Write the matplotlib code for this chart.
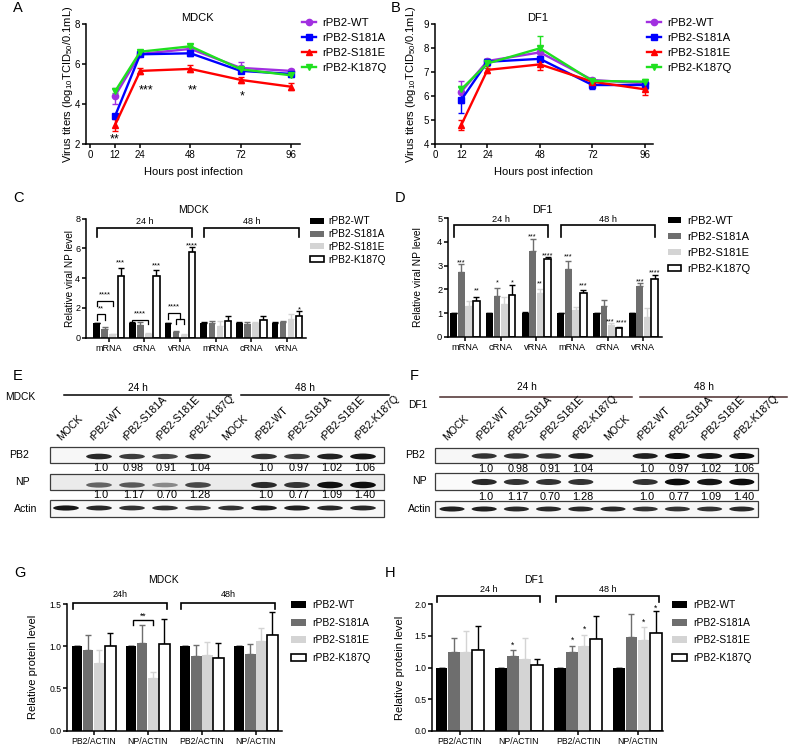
import numpy as np
import matplotlib.pyplot as plt
from matplotlib.patches import Ellipse, Rectangle, Patch
from matplotlib.lines import Line2D

plt.rcParams['font.family'] = ['Liberation Sans', 'DejaVu Sans']
plt.rcParams['mathtext.fontset'] = 'custom'
plt.rcParams['mathtext.rm'] = 'Liberation Sans'
plt.rcParams['mathtext.it'] = 'Liberation Sans:italic'
plt.rcParams['mathtext.bf'] = 'Liberation Sans:bold'
plt.rcParams['axes.linewidth'] = 1.1
plt.rcParams['xtick.major.width'] = 1.1
plt.rcParams['ytick.major.width'] = 1.1
plt.rcParams['xtick.major.size'] = 2.6
plt.rcParams['ytick.major.size'] = 2.6
plt.rcParams['xtick.major.pad'] = 1.8
plt.rcParams['ytick.major.pad'] = 1.5

W, H = 789, 747

# ---------------- data ----------------
strains = ['rPB2-WT', 'rPB2-S181A', 'rPB2-S181E', 'rPB2-K187Q']
hours = [12, 24, 48, 72, 96]

# A: MDCK virus titers
mdck_wt = [4.43, 6.52, 6.77, 5.82, 5.67]
mdck_wt_err = [0.4, 0.08, 0.12, 0.27, 0.1]
mdck_s181a = [3.42, 6.5, 6.55, 5.67, 5.52]
mdck_s181a_err = [0.1, 0.08, 0.15, 0.12, 0.12]
mdck_s181e = [2.97, 5.67, 5.77, 5.22, 4.88]
mdck_s181e_err = [0.3, 0.15, 0.17, 0.15, 0.17]
mdck_k187q = [4.65, 6.63, 6.9, 5.75, 5.45]
mdck_k187q_err = [0.1, 0.06, 0.1, 0.12, 0.1]
mdck_stars = [(12, 2.45, '**'), (27, 4.9, '***'), (49, 4.9, '**'), (72.5, 4.6, '*')]

# B: DF1 virus titers
df1_wt = [6.19, 7.47, 7.83, 6.68, 6.54]
df1_wt_err = [0.45, 0.1, 0.25, 0.08, 0.1]
df1_s181a = [5.85, 7.44, 7.56, 6.47, 6.47]
df1_s181a_err = [0.55, 0.1, 0.1, 0.15, 0.15]
df1_s181e = [4.8, 7.1, 7.33, 6.61, 6.29]
df1_s181e_err = [0.2, 0.15, 0.25, 0.1, 0.25]
df1_k187q = [6.29, 7.37, 8.0, 6.64, 6.61]
df1_k187q_err = [0.15, 0.2, 0.5, 0.08, 0.1]

# C / D: relative viral NP level
rna_groups = ['mRNA', 'cRNA', 'vRNA', 'mRNA', 'cRNA', 'vRNA']
c_wt = [1.0, 1.0, 1.0, 1.0, 1.0, 1.0]
c_wt_err = [0.0, 0.05, 0.0, 0.03, 0.03, 0.03]
c_s181a = [0.6, 0.85, 0.38, 0.95, 0.93, 1.02]
c_s181a_err = [0.08, 0.18, 0.05, 0.15, 0.1, 0.12]
c_s181e = [0.22, 0.25, 0.2, 0.8, 1.0, 1.25]
c_s181e_err = [0.03, 0.05, 0.03, 0.3, 0.07, 0.3]
c_k187q = [4.13, 4.13, 5.78, 1.12, 1.2, 1.45]
c_k187q_err = [0.52, 0.41, 0.3, 0.3, 0.25, 0.3]
c_stars = [(0, 3, '***', 5.2), (1, 3, '***', 5.0), (2, 3, '****', 6.34), (5, 3, '*', 2.03)]

d_wt = [1.0, 1.0, 1.0, 1.0, 1.0, 1.0]
d_wt_err = [0.0, 0.0, 0.05, 0.0, 0.0, 0.0]
d_s181a = [2.72, 1.7, 3.6, 2.88, 1.3, 2.14]
d_s181a_err = [0.34, 0.37, 0.52, 0.32, 0.25, 0.14]
d_s181e = [1.3, 1.38, 1.83, 1.13, 0.5, 0.82]
d_s181e_err = [0.2, 0.3, 0.2, 0.11, 0.06, 0.38]
d_k187q = [1.5, 1.78, 3.28, 1.86, 0.38, 2.45]
d_k187q_err = [0.19, 0.39, 0.07, 0.11, 0.04, 0.14]
d_stars = [(0, 1, '***', 3.24), (0, 3, '**', 2.04), (1, 1, '*', 2.37), (1, 3, '*', 2.37),
           (2, 1, '***', 4.34), (2, 2, '**', 2.35), (2, 3, '****', 3.52),
           (3, 1, '***', 3.48), (3, 3, '***', 2.28), (4, 2, '***', 0.73), (4, 3, '****', 0.7),
           (5, 1, '***', 2.44), (5, 3, '****', 2.82)]

# E / F: western blots
lane_names = ['MOCK', 'rPB2-WT', 'rPB2-S181A', 'rPB2-S181E', 'rPB2-K187Q'] * 2
ratio_lanes = [1, 2, 3, 4, 6, 7, 8, 9]
pb2_ratio = ['1.0', '0.98', '0.91', '1.04', '1.0', '0.97', '1.02', '1.06']
np_ratio = ['1.0', '1.17', '0.70', '1.28', '1.0', '0.77', '1.09', '1.40']
e_pb2_band = [0, 0.85, 0.75, 0.7, 0.8, 0, 0.8, 0.75, 0.9, 0.95]
e_np_band = [0, 0.55, 0.6, 0.35, 0.7, 0, 0.85, 0.8, 1.0, 1.0]
e_actin_band = [0.95, 0.85, 0.8, 0.8, 0.75, 0.8, 0.9, 0.9, 0.85, 0.85]
f_pb2_band = [0, 0.8, 0.8, 0.8, 0.9, 0, 0.9, 1.0, 0.95, 1.0]
f_np_band = [0, 0.85, 0.8, 0.8, 0.8, 0, 0.8, 1.0, 0.95, 1.0]
f_actin_band = [0.9, 0.9, 0.85, 0.85, 0.85, 0.85, 0.8, 0.8, 0.8, 0.85]

# G / H: relative protein level
prot_groups = ['PB2/ACTIN', 'NP/ACTIN', 'PB2/ACTIN', 'NP/ACTIN']
g_wt = [1.0, 1.0, 1.0, 1.0]
g_wt_err = [0.0, 0.0, 0.0, 0.0]
g_s181a = [0.96, 1.04, 0.88, 0.91]
g_s181a_err = [0.17, 0.21, 0.13, 0.12]
g_s181e = [0.8, 0.62, 0.9, 1.06]
g_s181e_err = [0.15, 0.08, 0.15, 0.15]
g_k187q = [1.0, 1.03, 0.86, 1.13]
g_k187q_err = [0.16, 0.29, 0.18, 0.28]

h_wt = [1.0, 1.0, 1.0, 1.0]
h_wt_err = [0.0, 0.0, 0.0, 0.0]
h_s181a = [1.25, 1.18, 1.24, 1.48]
h_s181a_err = [0.21, 0.09, 0.1, 0.37]
h_s181e = [1.24, 1.14, 1.34, 1.43]
h_s181e_err = [0.33, 0.32, 0.18, 0.21]
h_k187q = [1.27, 1.04, 1.45, 1.55]
h_k187q_err = [0.38, 0.09, 0.37, 0.35]
h_stars = [(1, 1, '*', 1.39), (2, 1, '*', 1.47), (2, 2, '*', 1.64), (3, 2, '*', 1.75), (3, 3, '*', 1.97)]

line_colors = ['#a12fe0', '#0000ff', '#ff0000', '#1fe01f']
line_markers = ['o', 's', '^', 'v']
bar_colors = ['#000000', '#6e6e6e', '#d4d4d4', '#ffffff']
err_colors = ['#000000', '#6e6e6e', '#d4d4d4', '#000000']

fig = plt.figure(figsize=(W / 100, H / 100), dpi=100)


def add_ax(left, top, right, bottom):
    return fig.add_axes([left / W, 1 - bottom / H, (right - left) / W, (bottom - top) / H])


def ftext(x, y, s, **kw):
    fig.text(x / W, 1 - y / H, s, **kw)


def px_labels(ax, xlabel=None, xlab_y=None, ylabel=None, ylab_x=None, fs=8):
    bb = ax.get_position()
    left, right = bb.x0 * W, bb.x1 * W
    top, bottom = (1 - bb.y1) * H, (1 - bb.y0) * H
    if ylabel:
        ax.set_ylabel(ylabel, fontsize=fs, va='center')
        ax.yaxis.set_label_coords((ylab_x - left) / (right - left), 0.5)
    if xlabel:
        ax.set_xlabel(xlabel, fontsize=fs, va='center')
        ax.xaxis.set_label_coords(0.5, -(xlab_y - bottom) / (bottom - top))


def px_legend(ax, handles, x, y, fs, spacing, hl, hh, pad):
    ax.legend(handles, strains, loc='upper left', bbox_to_anchor=(x / W, 1 - y / H),
              bbox_transform=fig.transFigure, frameon=False, fontsize=fs, borderpad=0,
              borderaxespad=0, labelspacing=spacing, handlelength=hl, handleheight=hh,
              handletextpad=pad)


def style(ax):
    for s in ['top', 'right']:
        ax.spines[s].set_visible(False)


def titer_panel(ax, series, errs, ylim, xlim):
    style(ax)
    for vals, err, c, m in zip(series, errs, line_colors, line_markers):
        ax.errorbar(hours, vals, yerr=err, color=c, marker=m, ms=4.5, lw=1.7,
                    elinewidth=1, capsize=2.5, capthick=1, clip_on=False)
    ax.set_xlim(*xlim)
    ax.set_ylim(*ylim)
    ax.set_xticks([0, 12, 24, 48, 72, 96])
    ax.tick_params(labelsize=7)
    handles = [Line2D([], [], color=c, marker=m, ms=4.5, lw=1.7)
               for c, m in zip(line_colors, line_markers)]
    return handles


def bar_panel(ax, means, errs, groups, width, step, fs_tick):
    style(ax)
    x = np.arange(len(groups))
    for i in range(4):
        xi = x + (i - 1.5) * step
        ax.bar(xi, means[i], width, color=bar_colors[i],
               edgecolor='black' if i == 3 else bar_colors[i],
               linewidth=1.2 if i == 3 else 0, zorder=2)
        ax.errorbar(xi, means[i], yerr=[np.zeros(len(x)), errs[i]], fmt='none',
                    ecolor=err_colors[i], elinewidth=1, capsize=2, capthick=1, zorder=1)
    ax.set_xticks(x)
    ax.set_xticklabels(groups)
    ax.tick_params(labelsize=fs_tick)
    return [Patch(facecolor=c, edgecolor='black' if i == 3 else c, linewidth=1.2 if i == 3 else 0)
            for i, c in enumerate(bar_colors)]


def bracket(ax, x0, x1, y, drop, text, ty, fs, lw=1.2):
    ax.plot([x0, x0, x1, x1], [y - drop, y, y, y - drop], color='black', lw=lw,
            clip_on=False, solid_joinstyle='miter')
    if text:
        ax.text((x0 + x1) / 2, ty, text, ha='center', va='center', fontsize=fs)


def stars(ax, items, step, fs, nudge=None):
    nudge = nudge or {}
    for g, i, s, y in items:
        x = g + (i - 1.5) * step + nudge.get((g, i), 0)
        ax.annotate(s, (x, y), xytext=(0, -0.58 * fs),
                    textcoords='offset points', ha='center', va='baseline', fontsize=fs,
                    annotation_clip=False)


# ---------------- A ----------------
axA = add_ax(86, 24.3, 300, 144.3)
hA = titer_panel(axA, [mdck_wt, mdck_s181a, mdck_s181e, mdck_k187q],
                 [mdck_wt_err, mdck_s181a_err, mdck_s181e_err, mdck_k187q_err],
                 (2, 8), (-1.9, 100.3))
axA.set_yticks([2, 4, 6, 8])
for x, y, s in mdck_stars:
    axA.annotate(s, (x, y), xytext=(0, -5), textcoords='offset points', ha='center',
                 va='baseline', fontsize=9)
px_labels(axA, 'Hours post infection', 172, r'Virus titers (log$_{10}$TCID$_{50}$/0.1mL)', 68, 8)
px_legend(axA, hA, 302, 18, 8.2, 0.45, 1.2, 0.7, 0.55)
ftext(197, 18, 'MDCK', ha='center', va='center', fontsize=8)

# ---------------- B ----------------
axB = add_ax(435, 24.3, 653, 144.3)
hB = titer_panel(axB, [df1_wt, df1_s181a, df1_s181e, df1_k187q],
                 [df1_wt_err, df1_s181a_err, df1_s181e_err, df1_k187q_err],
                 (4, 9), (0, 99.7))
axB.set_yticks([4, 5, 6, 7, 8, 9])
px_labels(axB, 'Hours post infection', 172, r'Virus titers (log$_{10}$TCID$_{50}$/0.1mL)', 411, 8)
px_legend(axB, hB, 647, 18, 8.2, 0.45, 1.2, 0.7, 0.55)
ftext(538, 18, 'DF1', ha='center', va='center', fontsize=8)

# ---------------- C ----------------
axC = add_ax(86, 218.5, 306, 337.5)
stepC, widthC = 0.225, 0.18
hC = bar_panel(axC, [c_wt, c_s181a, c_s181e, c_k187q],
               [c_wt_err, c_s181a_err, c_s181e_err, c_k187q_err], rna_groups, widthC, stepC, 6.5)
axC.set_xlim(-0.636, 5.53)
axC.set_ylim(0, 8)
axC.set_yticks([0, 2, 4, 6, 8])
stars(axC, c_stars, stepC, 5.5)
bracket(axC, -1.5 * stepC, 2 + 1.5 * stepC, 7.33, 0.6, '24 h', 7.78, 6.5)
bracket(axC, 3 - 1.5 * stepC, 5 + 1.5 * stepC, 7.33, 0.6, '48 h', 7.78, 6.5)
bracket(axC, -1.5 * stepC, -0.5 * stepC, 1.55, 0.38, '**', 1.95, 5.5, lw=0.9)
bracket(axC, -1.5 * stepC, 0.5 * stepC, 2.47, 0.36, '****', 2.87, 5.5, lw=0.9)
bracket(axC, 1 - 1.5 * stepC, 1 + 0.5 * stepC, 1.21, 0.27, '****', 1.62, 5.5, lw=0.9)
bracket(axC, 2 - 1.5 * stepC, 2, 1.62, 0.38, '****', 2.03, 5.5, lw=0.9)
bracket(axC, 2 - 0.5 * stepC, 2 + 0.5 * stepC, 1.24, 0.3, None, 0, 5.5, lw=0.9)
px_labels(axC, ylabel='Relative viral NP level', ylab_x=70, fs=7.2)
px_legend(axC, hC, 310, 216.5, 7.3, 0.27, 1.35, 0.5, 0.45)
ftext(193, 210, 'MDCK', ha='center', va='center', fontsize=7.5)

# ---------------- D ----------------
axD = add_ax(448, 218.3, 662, 336.7)
stepD, widthD = 0.21, 0.19
hD = bar_panel(axD, [d_wt, d_s181a, d_s181e, d_k187q],
               [d_wt_err, d_s181a_err, d_s181e_err, d_k187q_err], rna_groups, widthD, stepD, 6.7)
axD.set_xlim(-0.476, 5.52)
axD.set_ylim(0, 5)
axD.set_yticks([0, 1, 2, 3, 4, 5])
stars(axD, d_stars, stepD, 5.2, nudge={(4, 2): -0.05, (4, 3): 0.06})
bracket(axD, -1.5 * stepD, 2 + 1.5 * stepD, 4.72, 0.52, '24 h', 4.96, 6.7)
bracket(axD, 3 - 1.5 * stepD, 5 + 1.5 * stepD, 4.72, 0.52, '48 h', 4.96, 6.7)
px_labels(axD, ylabel='Relative viral NP level', ylab_x=418, fs=7.4)
px_legend(axD, hD, 668, 215.5, 8.0, 0.55, 1.2, 0.45, 0.5)
ftext(542, 210, 'DF1', ha='center', va='center', fontsize=7.8)


# ---------------- E / F blots ----------------
def blot_panel(ax, box_x, rows, ratio_y, line_y, lines, line_color):
    ax.axis('off')
    lanes = np.arange(len(lane_names))
    for lane, name in zip(lanes, lane_names):
        ax.text(lane - 0.12, 442, name, rotation=45, rotation_mode='anchor', ha='left',
                va='bottom', fontsize=7.5)
    for label, lab_x, top, bottom, bands, band_y, band_h, face in rows:
        ax.add_patch(Rectangle((box_x[0], top), box_x[1] - box_x[0], bottom - top,
                               facecolor=face, edgecolor='#3c3c3c', lw=0.9))
        ax.text(lab_x, (top + bottom) / 2, label, ha='left', va='center', fontsize=7.6)
        for lane, v in zip(lanes, bands):
            if v <= 0:
                continue
            g = 0.8 - 0.75 * v
            ax.add_patch(Ellipse((lane, band_y), 0.78, band_h * (0.6 + 0.5 * v),
                                 facecolor=(g, g, g), edgecolor='none'))
    for ratios, y in zip([pb2_ratio, np_ratio], ratio_y):
        for lane, r in zip(ratio_lanes, ratios):
            ax.text(lane + 0.05, y, r, ha='center', va='center', fontsize=7.8)
    for x0, x1, ty, s in lines:
        ax.plot([x0, x1], [line_y, line_y], color=line_color, lw=1.1)
        ax.text((x0 + x1) / 2 - 0.3, ty, s, ha='center', va='center', fontsize=7.3)


# E axes: lane i at px 66 + 33*i
axE = add_ax(0, 380, 395, 525)
axE.set_xlim(-66 / 33, (395 - 66) / 33)
axE.set_ylim(525, 380)
rowsE = [('PB2', -1.72, 447, 463, e_pb2_band, 456.5, 5.5, '#f7f7f7'),
         ('NP', -1.55, 474, 490, e_np_band, 485, 6, '#ebebeb'),
         ('Actin', -1.58, 500, 517, e_actin_band, 508, 4.8, '#f7f7f7')]
blot_panel(axE, (-0.5, 9.65), rowsE, (468, 495), 395,
           [(-0.05, 5.0, 388, '24 h'), (5.3, 9.8, 388, '48 h')], 'black')
ftext(5, 397, 'MDCK', ha='left', va='center', fontsize=7.4)

# F axes: lane i at px 452 + 32.2*i
axF = add_ax(395, 380, 789, 525)
axF.set_xlim((395 - 452) / 32.2, (789 - 452) / 32.2)
axF.set_ylim(525, 380)
rowsF = [('PB2', -1.46, 448, 463, f_pb2_band, 456, 5.5, '#f7f7f7'),
         ('NP', -1.25, 473, 490, f_np_band, 482, 6, '#fbfbfb'),
         ('Actin', -1.38, 501, 517, f_actin_band, 509, 4.8, '#f7f7f7')]
blot_panel(axF, (-0.53, 9.5), rowsF, (469, 497), 397,
           [(-0.37, 5.6, 387, '24 h'), (5.84, 10.4, 387, '48 h')], '#4a2c2c')
ftext(408, 405, 'DF1', ha='left', va='center', fontsize=7.4)

# ---------------- G ----------------
axG = add_ax(67, 604, 282, 730.7)
stepG, widthG = 0.207, 0.2
hG = bar_panel(axG, [g_wt, g_s181a, g_s181e, g_k187q],
               [g_wt_err, g_s181a_err, g_s181e_err, g_k187q_err], prot_groups, widthG, stepG, 6.2)
axG.set_xlim(-0.494, 3.487)
axG.set_ylim(0, 1.5)
axG.set_yticks([0, 0.5, 1.0, 1.5])
axG.set_yticklabels(['0.0', '0.5', '1.0', '1.5'])
bracket(axG, -1.5 * stepG - 0.07, 1 + 1.5 * stepG + 0.05, 1.51, 0.07, '24h', 1.61, 6.5)
bracket(axG, 2 - 1.5 * stepG - 0.07, 3 + 1.5 * stepG + 0.05, 1.51, 0.07, '48h', 1.61, 6.5)
bracket(axG, 1 - 1.5 * stepG + 0.03, 1 + 0.5 * stepG, 1.31, 0.06, '**', 1.36, 6.2, lw=1)
px_labels(axG, ylabel='Relative protein level', ylab_x=33, fs=8)
px_legend(axG, hG, 291, 600, 7.4, 0.75, 1.45, 0.7, 0.6)
ftext(163, 580, 'MDCK', ha='center', va='center', fontsize=7.5)

# ---------------- H ----------------
axH = add_ax(432, 604.3, 663, 730.7)
stepH, widthH = 0.204, 0.2
hH = bar_panel(axH, [h_wt, h_s181a, h_s181e, h_k187q],
               [h_wt_err, h_s181a_err, h_s181e_err, h_k187q_err], prot_groups, widthH, stepH, 6.2)
axH.set_xlim(-0.467, 3.43)
axH.set_ylim(0, 2.0)
axH.set_yticks([0, 0.5, 1.0, 1.5, 2.0])
axH.set_yticklabels(['0.0', '0.5', '1.0', '1.5', '2.0'])
stars(axH, h_stars, stepH, 6.2)
bracket(axH, -1.5 * stepH - 0.07, 1 + 1.5 * stepH + 0.05, 2.13, 0.1, '24 h', 2.23, 6.5)
bracket(axH, 2 - 1.5 * stepH - 0.07, 3 + 1.5 * stepH + 0.05, 2.13, 0.1, '48 h', 2.23, 6.5)
px_labels(axH, ylabel='Relative protein level', ylab_x=400, fs=8)
px_legend(axH, hH, 672, 600, 7.4, 0.75, 1.45, 0.7, 0.6)
ftext(534, 580, 'DF1', ha='center', va='center', fontsize=7.5)

# panel letters
for s, x, y in [('A', 18, 8), ('B', 396, 8), ('C', 18, 198), ('D', 400, 198),
                ('E', 18, 376), ('F', 414, 376), ('G', 20, 573), ('H', 390, 573)]:
    ftext(x, y, s, ha='center', va='center', fontsize=10.5)

fig.savefig('out.png', dpi=100)
